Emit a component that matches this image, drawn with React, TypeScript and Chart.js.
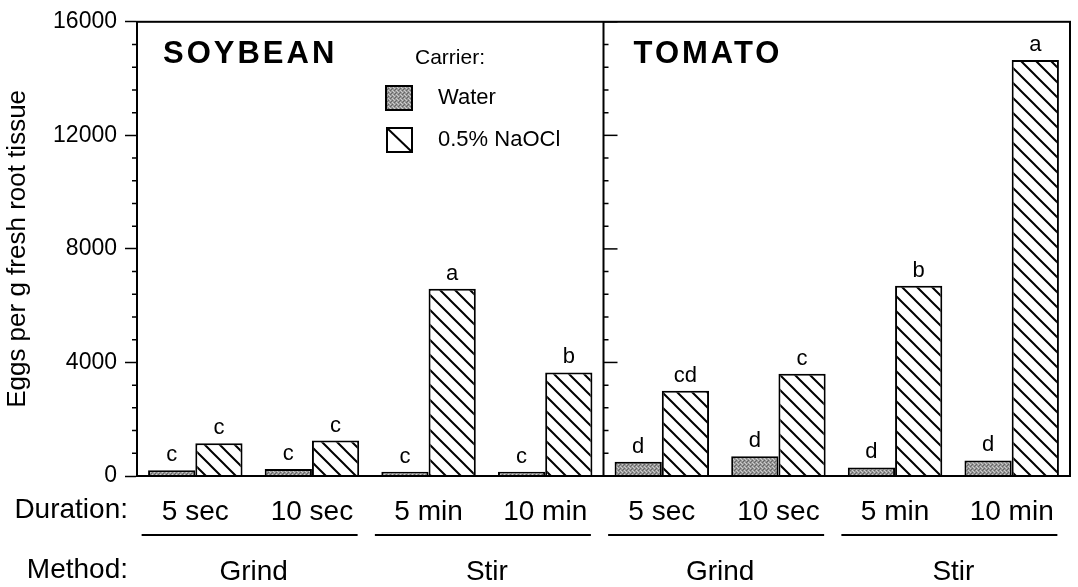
import React, { useEffect, useRef } from 'react';
import { Chart, registerables } from 'chart.js';

Chart.register(...registerables);

// ---------- data ----------
const durations = ['5 sec', '10 sec', '5 min', '10 min', '5 sec', '10 sec', '5 min', '10 min'];
const methods = ['Grind', 'Stir', 'Grind', 'Stir'];
const crops = ['SOYBEAN', 'TOMATO'];
const seriesNames = ['Water', '0.5% NaOCl'];
const waterValues = [200, 250, 150, 150, 500, 700, 300, 550];
const naoclValues = [1150, 1250, 6600, 3650, 3000, 3600, 6700, 14650];
const waterLetters = ['c', 'c', 'c', 'c', 'd', 'd', 'd', 'd'];
const naoclLetters = ['c', 'c', 'a', 'b', 'cd', 'c', 'b', 'a'];
const yMajorTicks = [0, 4000, 8000, 12000, 16000];
const yMinorStep = 800;
const yMax = 16000;
const yTitle = 'Eggs per g fresh root tissue';
const legendTitle = 'Carrier:';
const rowLabels = ['Duration:', 'Method:'];

const FONT = '"Liberation Sans", Arial, Helvetica, sans-serif';

function makeWaterPattern(ctx: CanvasRenderingContext2D) {
  const c = document.createElement('canvas');
  c.width = 4;
  c.height = 4;
  const g = c.getContext('2d')!;
  g.fillStyle = '#979797';
  g.fillRect(0, 0, 4, 4);
  g.fillStyle = '#666666';
  g.fillRect(0, 0, 1, 1);
  g.fillRect(2, 2, 1, 1);
  g.fillRect(3, 1, 1, 1);
  g.fillStyle = '#cccccc';
  g.fillRect(2, 0, 1, 1);
  g.fillRect(0, 2, 1, 1);
  g.fillRect(1, 3, 1, 1);
  return ctx.createPattern(c, 'repeat')!;
}

function makeHatchPattern(ctx: CanvasRenderingContext2D) {
  const s = 15;
  const c = document.createElement('canvas');
  c.width = s;
  c.height = s;
  const g = c.getContext('2d')!;
  g.fillStyle = '#ffffff';
  g.fillRect(0, 0, s, s);
  g.strokeStyle = '#000000';
  g.lineWidth = 2;
  g.beginPath();
  g.moveTo(-1, -1);
  g.lineTo(s + 1, s + 1);
  g.moveTo(-s - 1, -1);
  g.lineTo(1, s + 1);
  g.moveTo(s - 1, -1);
  g.lineTo(2 * s + 1, s + 1);
  g.stroke();
  return ctx.createPattern(c, 'repeat')!;
}

const decorPlugin = {
  id: 'decor',
  afterDatasetsDraw(chart: any) {
    const { ctx, chartArea: a, scales } = chart;
    const x = scales.x;
    const y = scales.y;
    const x2 = scales.x2;
    ctx.save();
    ctx.strokeStyle = '#000';
    ctx.fillStyle = '#000';

    // frame
    ctx.lineWidth = 2;
    ctx.strokeRect(a.left, a.top, a.right - a.left, a.bottom - a.top);

    // panel divider
    const dx = x.getPixelForValue(3.5);
    ctx.beginPath();
    ctx.moveTo(dx, a.top);
    ctx.lineTo(dx, a.bottom);
    ctx.stroke();

    // ticks: minor on left axis, all on divider
    ctx.lineWidth = 1.5;
    y.ticks.forEach((t: any) => {
      const py = y.getPixelForValue(t.value);
      const major = yMajorTicks.includes(t.value);
      ctx.beginPath();
      ctx.moveTo(dx, py);
      ctx.lineTo(dx + (major ? 14 : 5), py);
      if (!major) {
        ctx.moveTo(a.left - 5, py);
        ctx.lineTo(a.left, py);
      }
      ctx.stroke();
    });

    // significance letters
    ctx.font = `22px ${FONT}`;
    ctx.textAlign = 'center';
    ctx.textBaseline = 'alphabetic';
    [waterLetters, naoclLetters].forEach((letters, di) => {
      const meta = chart.getDatasetMeta(di);
      meta.data.forEach((el: any, i: number) => {
        ctx.fillText(letters[i], el.x, el.y - 9);
      });
    });

    // panel titles
    ctx.font = `bold 31px ${FONT}`;
    ctx.textAlign = 'left';
    (ctx as any).letterSpacing = '3px';
    ctx.fillText(crops[0], a.left + 26, 63);
    ctx.fillText(crops[1], dx + 30, 63);
    (ctx as any).letterSpacing = '0px';

    // legend
    const ds = chart.data.datasets;
    ctx.font = `21px ${FONT}`;
    ctx.textBaseline = 'middle';
    ctx.fillText(legendTitle, 415, 58);
    ctx.lineWidth = 2;
    ctx.fillStyle = ds[0].backgroundColor;
    ctx.fillRect(386, 86, 26, 24);
    ctx.strokeRect(386, 86, 26, 24);
    ctx.fillStyle = '#fff';
    ctx.fillRect(387, 128, 25, 24);
    ctx.strokeRect(387, 128, 25, 24);
    ctx.beginPath();
    ctx.moveTo(387, 128);
    ctx.lineTo(412, 152);
    ctx.stroke();
    ctx.fillStyle = '#000';
    ctx.font = `22px ${FONT}`;
    ctx.fillText(seriesNames[0], 438, 98);
    ctx.fillText(seriesNames[1], 438, 140);

    // row labels
    ctx.font = `28px ${FONT}`;
    ctx.textAlign = 'right';
    ctx.fillText(rowLabels[0], 128, 510);
    ctx.fillText(rowLabels[1], 128, 570);

    // method underlines
    ctx.lineWidth = 2;
    methods.forEach((_, i) => {
      const cx = x2.getPixelForValue(i);
      ctx.beginPath();
      ctx.moveTo(cx - 112, 535);
      ctx.lineTo(cx + 104, 535);
      ctx.stroke();
    });

    ctx.restore();
  },
};

export default function App() {
  const ref = useRef<HTMLCanvasElement>(null);

  useEffect(() => {
    const canvas = ref.current!;
    const ctx = canvas.getContext('2d')!;
    const water = makeWaterPattern(ctx);
    const hatch = makeHatchPattern(ctx);

    const chart = new Chart(canvas, {
      type: 'bar',
      data: {
        labels: durations,
        datasets: [
          {
            label: seriesNames[0],
            data: waterValues,
            backgroundColor: water as any,
            borderColor: '#000',
            borderWidth: 2,
            barPercentage: 1,
            categoryPercentage: 0.81,
            xAxisID: 'x',
          },
          {
            label: seriesNames[1],
            data: naoclValues,
            backgroundColor: hatch as any,
            borderColor: '#000',
            borderWidth: 2,
            barPercentage: 1,
            categoryPercentage: 0.81,
            xAxisID: 'x',
          },
        ],
      },
      options: {
        responsive: false,
        animation: false,
        devicePixelRatio: 1,
        events: [],
        layout: { padding: { top: 18, right: 8, left: 0, bottom: 0 } },
        plugins: {
          legend: { display: false },
          tooltip: { enabled: false },
        },
        scales: {
          x: {
            type: 'category',
            position: 'bottom',
            offset: true,
            grid: { display: false, drawTicks: false },
            border: { display: true, color: '#000', width: 2 },
            ticks: {
              color: '#000',
              font: { family: FONT, size: 28 },
              padding: 19,
              autoSkip: false,
              maxRotation: 0,
            },
            afterFit: (s: any) => {
              s.height = 59;
            },
          },
          x2: {
            type: 'category',
            position: 'bottom',
            labels: methods,
            offset: true,
            grid: { display: false, drawTicks: false },
            border: { display: false },
            ticks: {
              color: '#000',
              font: { family: FONT, size: 28 },
              padding: 20,
              autoSkip: false,
              maxRotation: 0,
            },
            afterFit: (s: any) => {
              s.height = 52;
            },
          },
          y: {
            type: 'linear',
            min: 0,
            max: yMax,
            grid: {
              drawOnChartArea: false,
              tickLength: 12,
              tickWidth: 1.5,
              tickColor: (c: any) =>
                c.tick && yMajorTicks.includes(c.tick.value) ? '#000' : 'rgba(0,0,0,0)',
            },
            border: { display: true, color: '#000', width: 2 },
            ticks: {
              stepSize: yMinorStep,
              maxTicksLimit: 100,
              autoSkip: false,
              color: '#000',
              padding: 8,
              font: { family: FONT, size: 23 },
              callback: (v: any) => (yMajorTicks.includes(Number(v)) ? String(v) : ''),
            },
            title: {
              display: true,
              text: yTitle,
              color: '#000',
              font: { family: FONT, size: 26 },
              padding: { top: 2, bottom: 0 },
            },
            afterFit: (s: any) => {
              s.width = 137;
            },
          },
        },
      },
      plugins: [decorPlugin],
    });
    return () => chart.destroy();
  }, []);

  return (
    <div style={{ position: 'absolute', left: 0, top: 0, width: 1078, height: 587, background: '#fff' }}>
      <canvas ref={ref} width={1078} height={587} />
    </div>
  );
}
